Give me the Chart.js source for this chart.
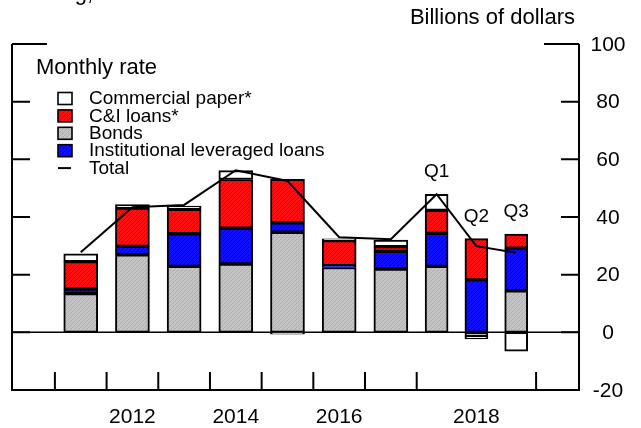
<!DOCTYPE html>
<html>
<head>
<meta charset="utf-8">
<script src="https://cdn.jsdelivr.net/npm/chart.js@4.4.1/dist/chart.umd.min.js"></script>
<style>
  html, body { margin: 0; padding: 0; background: #fff; }
  #wrap { width: 641px; height: 428px; }
</style>
</head>
<body>
<div id="wrap"><canvas id="chart" width="641" height="428"></canvas></div>
<script>
// Annual bars 2011-2017, then quarterly bars for 2018 (monthly rate, billions of dollars)
const years = ['2011', '2012', '2013', '2014', '2015', '2016', '2017'];
const quarters = ['Q1', 'Q2', 'Q3'];

const bondsAnnual = [13.4, 26.9, 22.9, 23.7, 34.7, 22.5, 21.9];
const levAnnual   = [1.6, 2.9, 11.3, 12.4, 3.3, 0.6, 6.2];
const ciAnnual    = [9.5, 13.3, 8.5, 16.9, 15.1, 8.7, 1.6];
const cpAnnual    = [2.7, 1.2, 1.1, 3.1, -0.6, 0.6, 2.3];
const totalAnnual = [27.8, 43.4, 44.2, 56.2, 52.5, 33.0, 32.3];

const bondsQuarterly = [22.9, -1.4, 14.4];
const levQuarterly   = [11.4, 18.2, 14.8];
const ciQuarterly    = [8.0, 14.3, 4.9];
const cpQuarterly    = [5.6, -0.9, -6.5];
const totalQuarterly = [47.9, 29.9, 27.6];

const yTicks = [100, 80, 60, 40, 20, 0, -20];
const yearLabels = ['2012', '2014', '2016', '2018'];

// 2018 is split in quarters, each quarter gets 0.77 of a year's width
const QW = 0.77;
const annualX = years.map(y => +y + 0.5);
const quarterX = quarters.map((q, i) => 2018 + QW * (i + 0.5));
const tickX = years.map(y => +y).concat([2018, 2018 + 3 * QW]);
const labelX = yearLabels.map(y => y === '2018' ? 2018 + 1.5 * QW : +y + 0.5);

const FONT = '"Liberation Sans", Arial, Helvetica, sans-serif';

function hatch(base, line) {
    const c = document.createElement('canvas');
    c.width = 4; c.height = 4;
    const g = c.getContext('2d');
    g.fillStyle = base;
    g.fillRect(0, 0, 4, 4);
    g.strokeStyle = line;
    g.lineWidth = 0.8;
    g.beginPath();
    g.moveTo(-1, 5); g.lineTo(5, -1);
    g.stroke();
    return g.createPattern(c, 'repeat');
}

const RED = hatch('#ff1010', '#d00000');
const BLUE = hatch('#1010ff', '#0000c8');
const GRAY = hatch('#c4c4c4', '#a8a8a8');
const WHITE = '#ffffff';

function pts(xs, vals) {
    return vals.map((v, i) => ({ x: xs[i], y: v }));
}

function barSet(label, xs, vals, color, thick) {
    return {
        type: 'bar',
        label: label,
        data: pts(xs, vals),
        backgroundColor: color,
        borderColor: '#000',
        borderWidth: 2,
        borderSkipped: false,
        barThickness: thick,
        order: 1
    };
}

const frame = {
    id: 'frame',
    beforeDatasetsDraw(chart) {
        const { ctx, chartArea: a, scales: { y } } = chart;
        ctx.save();
        ctx.strokeStyle = '#000';
        ctx.lineWidth = 1.5;
        const y0 = y.getPixelForValue(0);
        ctx.beginPath();
        ctx.moveTo(a.left, y0);
        ctx.lineTo(a.right, y0);
        ctx.stroke();
        ctx.restore();
    },
    afterDraw(chart) {
        const { ctx, chartArea: a, scales: { x, y } } = chart;
        ctx.save();
        ctx.strokeStyle = '#000';
        ctx.fillStyle = '#000';
        ctx.lineWidth = 2;

        // frame: left, right and bottom
        ctx.beginPath();
        ctx.moveTo(a.left, a.top); ctx.lineTo(a.left, a.bottom);
        ctx.lineTo(a.right, a.bottom); ctx.lineTo(a.right, a.top);
        ctx.stroke();

        // inward y ticks on both sides, longer at the top
        yTicks.forEach(v => {
            const py = y.getPixelForValue(v);
            const len = v === 100 ? 35 : 18;
            ctx.beginPath();
            ctx.moveTo(a.left, py); ctx.lineTo(a.left + len, py);
            ctx.moveTo(a.right, py); ctx.lineTo(a.right - len, py);
            ctx.stroke();
        });

        // inward x ticks at year boundaries
        tickX.forEach(v => {
            const px = x.getPixelForValue(v);
            ctx.beginPath();
            ctx.moveTo(px, a.bottom); ctx.lineTo(px, a.bottom - 18);
            ctx.stroke();
        });

        // y labels on the right
        ctx.font = '21px ' + FONT;
        ctx.textAlign = 'center';
        ctx.textBaseline = 'middle';
        yTicks.forEach(v => {
            ctx.fillText(String(v), a.right + 29, y.getPixelForValue(v) + 1);
        });

        // year labels
        yearLabels.forEach((t, i) => {
            ctx.fillText(t, x.getPixelForValue(labelX[i]), a.bottom + 27);
        });

        // quarter labels above the 2018 bars
        ctx.font = '19px ' + FONT;
        quarters.forEach((q, i) => {
            const top = Math.max(0, bondsQuarterly[i]) + Math.max(0, levQuarterly[i]) +
                Math.max(0, ciQuarterly[i]) + Math.max(0, cpQuarterly[i]);
            ctx.fillText(q, x.getPixelForValue(quarterX[i]), y.getPixelForValue(Math.max(top, totalQuarterly[i])) - 22);
        });

        // titles (the figure title above is cut off; only its descenders show)
        ctx.font = '22px ' + FONT;
        ctx.textBaseline = 'alphabetic';
        ctx.textAlign = 'right';
        ctx.fillText('Billions of dollars', 575, 24);
        ctx.fillText('financing,', 93, 0);
        ctx.textAlign = 'left';
        ctx.fillText('Monthly rate', 36, 74);

        // legend
        const items = [
            { label: 'Commercial paper*', fill: WHITE },
            { label: 'C&I loans*', fill: RED },
            { label: 'Bonds', fill: GRAY },
            { label: 'Institutional leveraged loans', fill: BLUE },
            { label: 'Total', line: true }
        ];
        ctx.font = '19px ' + FONT;
        ctx.textBaseline = 'middle';
        items.forEach((it, i) => {
            const cy = 98.5 + i * 17.4;
            if (it.line) {
                ctx.lineWidth = 2;
                ctx.beginPath();
                ctx.moveTo(58, cy); ctx.lineTo(71, cy);
                ctx.stroke();
            } else {
                ctx.fillStyle = it.fill;
                ctx.fillRect(58, cy - 6, 14, 12);
                ctx.lineWidth = 1.6;
                ctx.strokeRect(58, cy - 6, 14, 12);
            }
            ctx.fillStyle = '#000';
            ctx.fillText(it.label, 89, cy + 0.5);
        });
        ctx.restore();
    }
};

new Chart(document.getElementById('chart').getContext('2d'), {
    data: {
        datasets: [
            {
                type: 'line',
                label: 'Total',
                data: pts(annualX.concat(quarterX), totalAnnual.concat(totalQuarterly)),
                borderColor: '#000',
                borderWidth: 2,
                pointRadius: 0,
                tension: 0,
                order: 0
            },
            barSet('Bonds', annualX, bondsAnnual, GRAY, 34),
            barSet('Institutional leveraged loans', annualX, levAnnual, BLUE, 34),
            barSet('C&I loans*', annualX, ciAnnual, RED, 34),
            barSet('Commercial paper*', annualX, cpAnnual, WHITE, 34),
            barSet('Bonds', quarterX, bondsQuarterly, GRAY, 23),
            barSet('Institutional leveraged loans', quarterX, levQuarterly, BLUE, 23),
            barSet('C&I loans*', quarterX, ciQuarterly, RED, 23),
            barSet('Commercial paper*', quarterX, cpQuarterly, WHITE, 23)
        ]
    },
    options: {
        responsive: false,
        animation: false,
        devicePixelRatio: 1,
        layout: {
            padding: { left: 12, right: 62, top: 44, bottom: 38 }
        },
        plugins: {
            legend: { display: false },
            tooltip: { enabled: false }
        },
        scales: {
            x: {
                type: 'linear',
                min: 2010.17,
                max: 2021.14,
                offset: false,
                stacked: true,
                display: false
            },
            y: {
                type: 'linear',
                min: -20,
                max: 100,
                stacked: true,
                display: false
            }
        }
    },
    plugins: [frame]
});
</script>
</body>
</html>
